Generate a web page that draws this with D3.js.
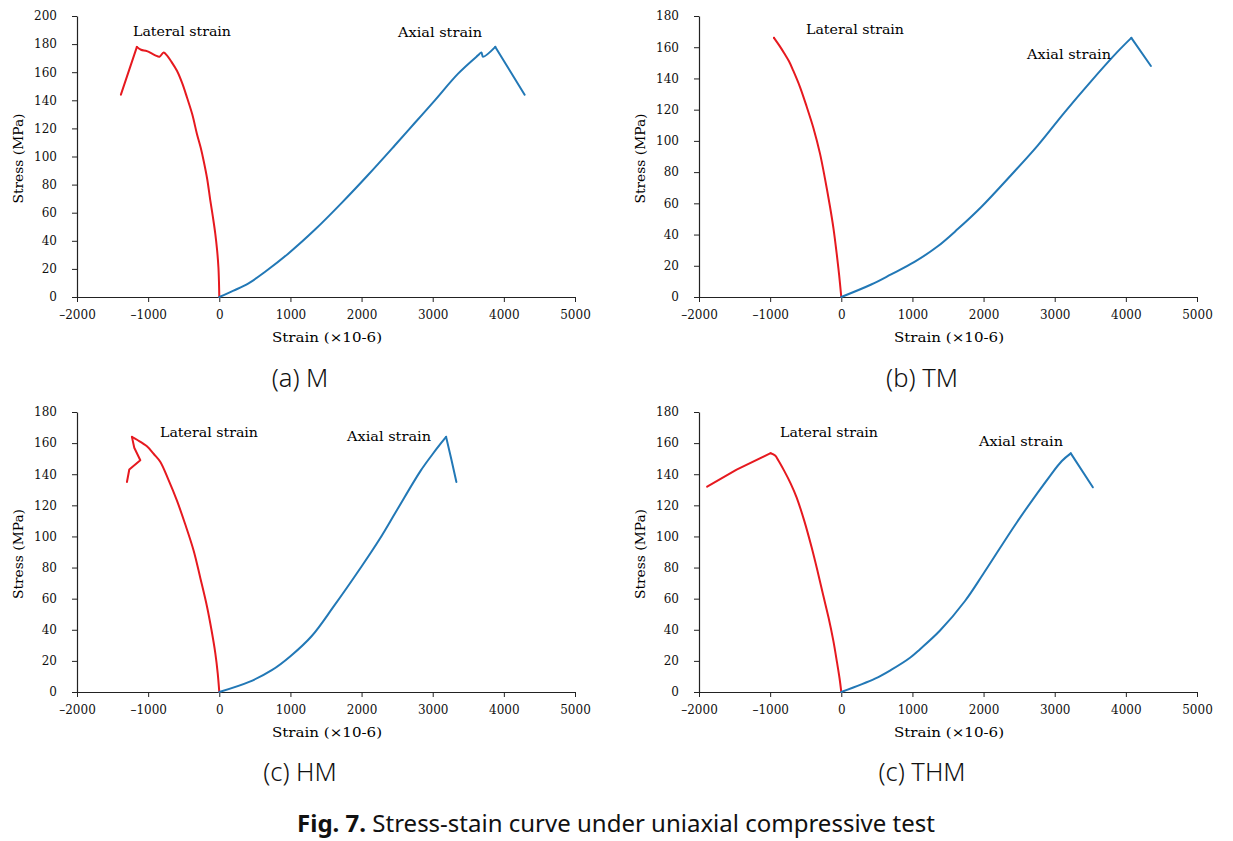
<!DOCTYPE html>
<html><head><meta charset="utf-8">
<script src="https://cdn.jsdelivr.net/npm/d3@7"></script>
<style>
body{margin:0;background:#fff;}
svg{display:block;}
.tick text{font-family:"DejaVu Serif","Liberation Serif",serif;font-size:12px;fill:#111;}
</style></head><body>
<svg id="chart" width="1233" height="841"></svg>
<script>
// ---- data (strain ×10^-6, stress MPa) ----
const xTicks = [-2000, -1000, 0, 1000, 2000, 3000, 4000, 5000];
const yTicks200 = [0, 20, 40, 60, 80, 100, 120, 140, 160, 180, 200];
const yTicks180 = [0, 20, 40, 60, 80, 100, 120, 140, 160, 180];

const lateralM = [[-1383,144],[-1158,178],[-1100,176],[-1017,175],[-900,172],[-840,171],[-783,174],[-736,172],[-680,168],[-595,161],[-520,152],[-454,142],[-380,130],[-314,116],[-260,106],[-220,97],[-170,84],[-127,69],[-90,57],[-56,45],[-30,33],[-12,21],[-4,10],[0,0]];
const axialM = [[0,0],[200,4.5],[411,9.7],[645,18],[972,31],[1346,48],[1721,67],[2094,87],[2469,108],[2750,124],[3030,140],[3357,159],[3637,172],[3684,174],[3707,171],[3880,178],[4292,144]];

const lateralTM = [[-946,166],[-870,161],[-800,156],[-735,151],[-675,145],[-580,134.5],[-487,122],[-390,108],[-300,92],[-230,76],[-159,58],[-110,44],[-65,28],[-30,14],[0,0]];
const axialTM = [[0,0],[421,8],[700,14.5],[1029,22.5],[1356,32.5],[1637,43.5],[1964,57.5],[2385,78],[2760,97],[3133,118],[3507,138],[3881,157],[4077,166],[4352,148]];

const lateralHM = [[-1298,135],[-1265,143],[-1110,149],[-1195,157],[-1228,164],[-1150,162],[-1017,158],[-920,153],[-830,148],[-720,137],[-595,123],[-480,108],[-361,91],[-265,73],[-173,55],[-110,40],[-56,25],[-22,12],[0,0]];
const axialHM = [[0,0],[420,6.5],[738,14],[1000,23],[1300,36],[1608,55],[1997,80.5],[2250,98],[2498,117],[2827,142],[3000,153],[3100,159],[3188,164],[3260,150],[3333,135]];

const lateralTHM = [[-1885,132],[-1471,143],[-993,153.5],[-930,152],[-886,149],[-800,142],[-711,134],[-627,125],[-520,110],[-417,93],[-330,77],[-253,62],[-180,48],[-112,33],[-60,19],[-25,9],[0,0]];
const axialTHM = [[0,0],[474,8.6],[700,14.2],[966,22],[1107,27.5],[1388,39.5],[1739,58.5],[1997,76],[2467,109],[2935,139],[3100,148.5],[3226,153.4],[3536,131.6]];

const panelNames = ["(a) M", "(b) TM", "(c) HM", "(c) THM"];
const caption = ["Fig. 7.", " Stress-stain curve under uniaxial compressive test"];

const panels = [
  {lat: lateralM, ax: axialM, ymax: 200, yticks: yTicks200, left: 77, right: 575, top: 16, bottom: 297,
   latLab: [133, 36], axLab: [398, 37], name: panelNames[0], nameXY: [300, 387]},
  {lat: lateralTM, ax: axialTM, ymax: 180, yticks: yTicks180, left: 699, right: 1197, top: 16, bottom: 297,
   latLab: [806, 34], axLab: [1027, 59], name: panelNames[1], nameXY: [922, 387]},
  {lat: lateralHM, ax: axialHM, ymax: 180, yticks: yTicks180, left: 77, right: 575, top: 412, bottom: 692,
   latLab: [160, 437], axLab: [347, 441], name: panelNames[2], nameXY: [300, 781]},
  {lat: lateralTHM, ax: axialTHM, ymax: 180, yticks: yTicks180, left: 699, right: 1197, top: 412, bottom: 692,
   latLab: [780, 437], axLab: [979, 446], name: panelNames[3], nameXY: [922, 781]}
];

const svg = d3.select("#chart");
const serif = '"DejaVu Serif","Liberation Serif",serif';
const sans = '"Noto Sans","Open Sans",sans-serif';

// split a series at its peak stress: the branch through the origin is smoothed, the post-peak branch stays straight
function pieces(series) {
  const k = d3.maxIndex(series, d => d[1]);
  const a = series.slice(0, k + 1), b = series.slice(k);
  const originFirst = series[0][0] === 0 && series[0][1] === 0;
  return originFirst ? {smooth: a, sharp: b} : {smooth: b, sharp: a};
}

panels.forEach(p => {
  const x = d3.scaleLinear().domain([-2000, 5000]).range([p.left, p.right]);
  const y = d3.scaleLinear().domain([0, p.ymax]).range([p.bottom, p.top]);
  const g = svg.append("g");

  const xa = g.append("g").attr("transform", `translate(0,${p.bottom})`)
    .call(d3.axisBottom(x).tickValues(xTicks).tickSize(5).tickSizeOuter(0).tickPadding(8).tickFormat(d => d < 0 ? "\u2013" + Math.abs(d) : d));
  const ya = g.append("g").attr("transform", `translate(${p.left},0)`)
    .call(d3.axisLeft(y).tickValues(p.yticks).tickSize(5).tickSizeOuter(0).tickPadding(15));
  [xa, ya].forEach(a => { a.select(".domain").attr("stroke", "#222").attr("stroke-width", 1.2); a.selectAll(".tick line").attr("stroke", "#222"); });

  const smoothLine = d3.line().x(d => x(d[0])).y(d => y(d[1])).curve(d3.curveCatmullRom.alpha(0.5));
  const straightLine = d3.line().x(d => x(d[0])).y(d => y(d[1]));
  [[p.lat, "#e6191f"], [p.ax, "#2278b6"]].forEach(([s, col]) => {
    const pc = pieces(s);
    g.append("path").datum(pc.smooth).attr("d", smoothLine).attr("fill", "none").attr("stroke", col).attr("stroke-width", 2).attr("stroke-linejoin", "round").attr("stroke-linecap", "round");
    g.append("path").datum(pc.sharp).attr("d", straightLine).attr("fill", "none").attr("stroke", col).attr("stroke-width", 2).attr("stroke-linejoin", "round").attr("stroke-linecap", "round");
  });

  g.append("text").attr("x", p.latLab[0]).attr("y", p.latLab[1]).attr("font-family", serif).attr("font-size", 13)
    .attr("textLength", 98).attr("lengthAdjust", "spacingAndGlyphs").text("Lateral strain");
  g.append("text").attr("x", p.axLab[0]).attr("y", p.axLab[1]).attr("font-family", serif).attr("font-size", 13)
    .attr("textLength", 84).attr("lengthAdjust", "spacingAndGlyphs").text("Axial strain");

  g.append("text").attr("x", (p.left + p.right) / 2 + 1 - 55).attr("y", p.bottom + 45)
    .attr("font-family", serif).attr("font-size", 13).attr("textLength", 110).attr("lengthAdjust", "spacingAndGlyphs")
    .text("Strain (\u00d710-6)");
  g.append("text").attr("transform", `translate(${p.left - 54},${(p.top + p.bottom) / 2 + 2 + 45}) rotate(-90)`)
    .attr("font-family", serif).attr("font-size", 13).attr("textLength", 90).attr("lengthAdjust", "spacingAndGlyphs")
    .text("Stress (MPa)");

  svg.append("text").attr("x", p.nameXY[0]).attr("y", p.nameXY[1]).attr("text-anchor", "middle")
    .attr("font-family", sans).attr("font-size", 25.5).attr("font-weight", 300).attr("fill", "#111").text(p.name);
});

const cap = svg.append("text").attr("x", 616).attr("y", 832).attr("text-anchor", "middle")
  .attr("font-family", sans).attr("font-size", 24).attr("fill", "#111");
cap.append("tspan").attr("font-weight", "bold").text(caption[0]);
cap.append("tspan").text(caption[1]);
</script>
</body></html>
